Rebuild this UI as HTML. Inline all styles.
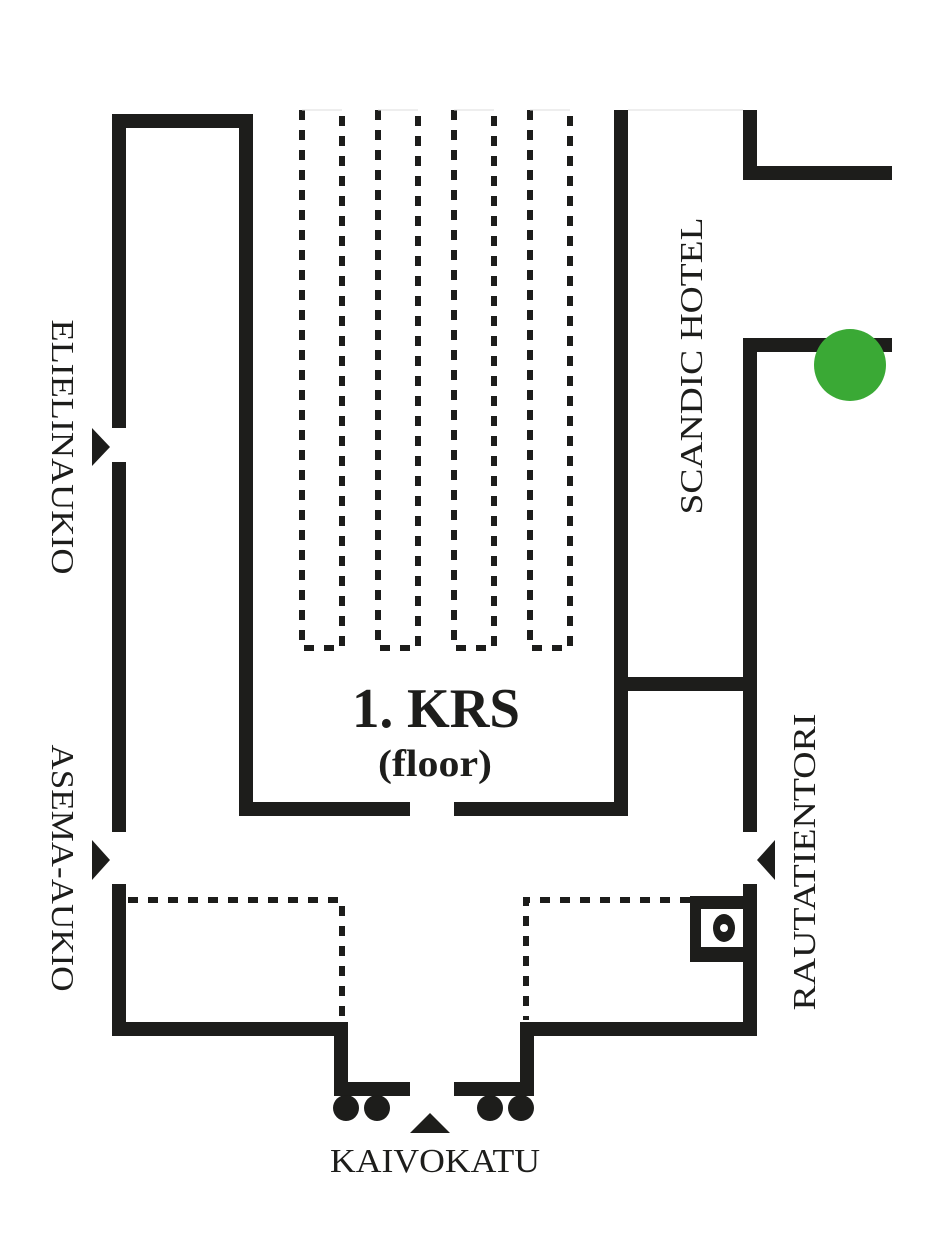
<!DOCTYPE html>
<html><head><meta charset="utf-8"><style>
html,body{margin:0;padding:0;background:#fff;width:930px;height:1250px;overflow:hidden}
</style></head><body>
<svg width="930" height="1250" viewBox="0 0 930 1250" xmlns="http://www.w3.org/2000/svg">
<g fill="#1d1d1b">
<rect x="112" y="114" width="14" height="314"/>
<rect x="112" y="462" width="14" height="370"/>
<rect x="112" y="884" width="14" height="152"/>
<rect x="112" y="114" width="141" height="14"/>
<rect x="239" y="114" width="14" height="702"/>
<rect x="239" y="802" width="171" height="14"/>
<rect x="454" y="802" width="174" height="14"/>
<rect x="614" y="110" width="14" height="706"/>
<rect x="628" y="677" width="129" height="14"/>
<rect x="743" y="110" width="14" height="70"/>
<rect x="743" y="166" width="149" height="14"/>
<rect x="743" y="338" width="149" height="14"/>
<rect x="743" y="338" width="14" height="494"/>
<rect x="743" y="884" width="14" height="152"/>
<rect x="112" y="1022" width="236" height="14"/>
<rect x="520" y="1022" width="237" height="14"/>
<rect x="334" y="1022" width="14" height="74"/>
<rect x="520" y="1022" width="14" height="74"/>
<rect x="334" y="1082" width="76" height="14"/>
<rect x="454" y="1082" width="80" height="14"/>
<circle cx="346" cy="1108" r="13"/><circle cx="377" cy="1108" r="13"/>
<circle cx="490" cy="1108" r="13"/><circle cx="521" cy="1108" r="13"/>
<rect x="690" y="896" width="55" height="66"/>
<rect x="701" y="909" width="42" height="38" fill="#fff"/>
<ellipse cx="724" cy="928" rx="11" ry="14"/>
<circle cx="724" cy="928" r="4" fill="#fff"/>
<polygon points="92,428 110,447 92,466"/>
<polygon points="92,840 110,860 92,880"/>
<polygon points="775,840 757,860 775,880"/>
<polygon points="410,1133 430,1113 450,1133"/>
</g>
<g stroke="#1d1d1b" stroke-width="6" fill="none" stroke-dasharray="10 10">
<path d="M302 110 V648 H342 V110"/>
<path d="M378 110 V648 H418 V110"/>
<path d="M454 110 V648 H494 V110"/>
<path d="M530 110 V648 H570 V110"/>
<path d="M128 900 H342 V1020"/>
<path d="M690 900 H526 V1020"/>
</g>
<g stroke="#ddd" stroke-width="1">
<line x1="302" y1="110" x2="342" y2="110"/><line x1="378" y1="110" x2="418" y2="110"/>
<line x1="454" y1="110" x2="494" y2="110"/><line x1="530" y1="110" x2="570" y2="110"/>
<line x1="628" y1="110" x2="743" y2="110"/>
</g>
<circle cx="850" cy="365" r="36" fill="#3aa935"/>
<g fill="#1d1d1b" font-family="Liberation Serif, serif">
<text x="436" y="727" text-anchor="middle" font-size="56" font-weight="bold" textLength="168" lengthAdjust="spacingAndGlyphs">1. KRS</text>
<text x="435" y="776" text-anchor="middle" font-size="38" font-weight="bold" textLength="114" lengthAdjust="spacingAndGlyphs">(floor)</text>
<text x="435" y="1172" text-anchor="middle" font-size="34" textLength="210" lengthAdjust="spacingAndGlyphs">KAIVOKATU</text>
<text transform="translate(52,447) rotate(90)" text-anchor="middle" font-size="32" textLength="255" lengthAdjust="spacingAndGlyphs">ELIELINAUKIO</text>
<text transform="translate(52,868) rotate(90)" text-anchor="middle" font-size="32" textLength="247" lengthAdjust="spacingAndGlyphs">ASEMA-AUKIO</text>
<text transform="translate(702,366) rotate(-90)" text-anchor="middle" font-size="32" textLength="297" lengthAdjust="spacingAndGlyphs">SCANDIC HOTEL</text>
<text transform="translate(815,862) rotate(-90)" text-anchor="middle" font-size="32" textLength="297" lengthAdjust="spacingAndGlyphs">RAUTATIENTORI</text>
</g>
</svg>
</body></html>
